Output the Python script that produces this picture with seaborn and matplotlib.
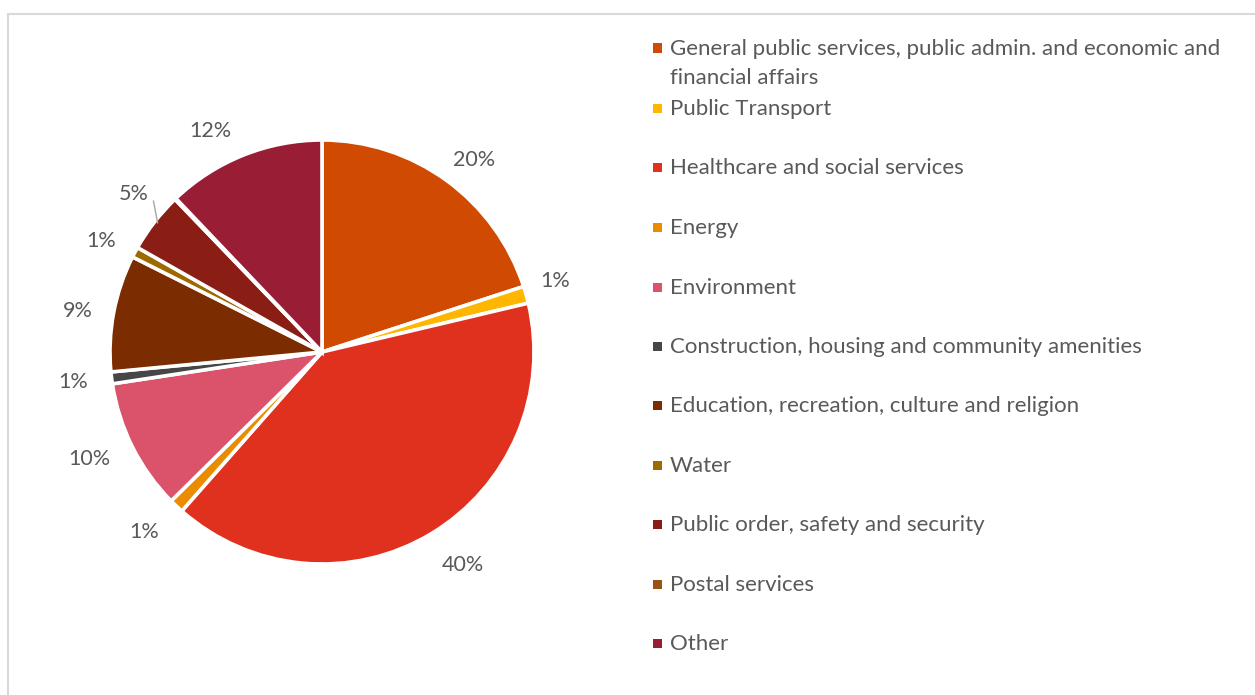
import matplotlib
matplotlib.use("Agg")
import matplotlib.pyplot as plt
import numpy as np
import seaborn as sns

# Spending shares by function (percent)
categories = [
    "General public services, public admin. and economic and\nfinancial affairs",
    "Public Transport",
    "Healthcare and social services",
    "Energy",
    "Environment",
    "Construction, housing and community amenities",
    "Education, recreation, culture and religion",
    "Water",
    "Public order, safety and security",
    "Postal services",
    "Other",
]
shares = [20.0, 1.3, 40.2, 1.1, 10.0, 0.9, 8.9, 0.8, 4.6, 0.1, 12.1]
colors = [
    "#D04A02", "#FFB600", "#E0301E", "#EB8C00", "#DB536A", "#464646",
    "#7B2C00", "#9E6A00", "#8A1E14", "#985412", "#981D35",
]

sns.set_theme(style="white")
plt.rcParams["font.family"] = ["Lato", "DejaVu Sans"]
TXT = "#595959"

W, H = 1255, 695
fig = plt.figure(figsize=(W / 100, H / 100), dpi=100)
fig.patch.set_facecolor("white")

# chart frame (left and top edges visible)
frame = plt.Rectangle((8 / W, -40 / H), 1.2, (H - 14 + 40) / H, transform=fig.transFigure,
                      fill=False, edgecolor="#D9D9D9", linewidth=1.5)
fig.add_artist(frame)

cx, cy, r = 322, 352, 212
ax = fig.add_axes([(cx - r) / W, (H - cy - r) / H, 2 * r / W, 2 * r / H])
wedges, _ = ax.pie(
    shares, colors=colors, startangle=90, counterclock=False,
    wedgeprops=dict(edgecolor="white", linewidth=2.6),
)
ax.set_xlim(-1, 1)
ax.set_ylim(-1, 1)
ax.set_aspect("equal")
ax.axis("off")

# label placement tweaks in pixels (right, down), one per slice
label_shift = [(5, 10), (-8, -3), (12, -2), (-6, -2), (-9, -5), (-1, -1),
               (2, 5), (0, 7), (9, -5), (0, 0), (-19, 11)]

# percentage labels outside the slices
for w, v, name, (sx, sy) in zip(wedges, shares, categories, label_shift):
    if v < 0.5:
        continue
    mid = np.deg2rad((w.theta1 + w.theta2) / 2)
    d = 1.18
    lx = d * np.cos(mid) + sx / r
    ly = d * np.sin(mid) - sy / r
    ax.text(lx, ly, f"{v:.0f}%", ha="center", va="center",
            fontsize=15.5, color=TXT, clip_on=False)
    if name.startswith("Public order"):
        x0, y0 = np.cos(mid), np.sin(mid)
        ax.plot([x0 + 0.015, x0 - 0.005], [y0 - 0.005, y0 + 0.1], color="#A6A6A6",
                linewidth=1, clip_on=False)

# legend column
rows = [48, 108, 167, 227, 287, 346, 405, 465, 524, 584, 643]
for name, col, y in zip(categories, colors, rows):
    sq = plt.Rectangle((653 / W, (H - y - 4.5) / H), 9 / W, 9 / H,
                       transform=fig.transFigure, facecolor=col, edgecolor="none")
    fig.add_artist(sq)
    for k, line in enumerate(name.split("\n")):
        fig.text(670 / W, (H - y - 1 - 29 * k) / H, line, ha="left", va="center",
                 fontsize=16, color=TXT)

fig.savefig("out.png", dpi=100)
